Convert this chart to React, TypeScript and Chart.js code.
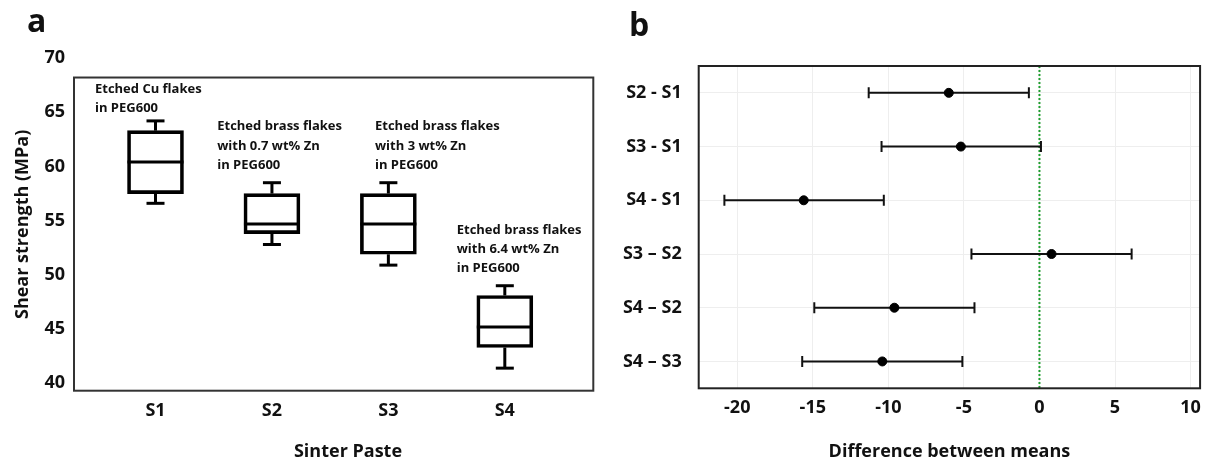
import React, { useEffect, useRef } from "react";
import { Chart, registerables } from "chart.js";
Chart.register(...registerables);

// ---------- Panel a: box plot data ----------
const samples = ["S1", "S2", "S3", "S4"];
const whiskerLow = [56.6, 52.8, 50.9, 41.4];
const quartile1 = [57.5, 53.8, 51.9, 43.3];
const medians = [60.4, 54.7, 54.7, 45.2];
const quartile3 = [63.3, 57.5, 57.5, 48.1];
const whiskerHigh = [64.2, 58.5, 58.5, 49.0];
const yTicksA = [40, 45, 50, 55, 60, 65, 70];
const annotations = [
  ["Etched Cu flakes", "in PEG600"],
  ["Etched brass flakes", "with 0.7 wt% Zn", "in PEG600"],
  ["Etched brass flakes", "with 3 wt% Zn", "in PEG600"],
  ["Etched brass flakes", "with 6.4 wt% Zn", "in PEG600"],
];
const yTitleA = "Shear strength (MPa)";
const xTitleA = "Sinter Paste";

// ---------- Panel b: Tukey intervals ----------
const comparisons = ["S2 - S1", "S3 - S1", "S4 - S1", "S3 – S2", "S4 – S2", "S4 – S3"];
const meanDiff = [-6.0, -5.2, -15.6, 0.8, -9.6, -10.4];
const ciLow = [-11.3, -10.45, -20.85, -4.5, -14.9, -15.7];
const ciHigh = [-0.7, 0.1, -10.3, 6.1, -4.3, -5.1];
const xTicksB = [-20, -15, -10, -5, 0, 5, 10];
const xTitleB = "Difference between means";

// ---------- layout / style (not data) ----------
const FONT = '"Open Sans", "DejaVu Sans", sans-serif';
const annotationAnchorX = [0.48, 1.53, 2.885, 3.587]; // x-axis units
const annotationAnchorY = [67.14, 63.69, 63.69, 54.15]; // y-axis units
const FRAME_TOP_A = 68.2;

export default function App() {
  const refA = useRef<HTMLCanvasElement>(null);
  const refB = useRef<HTMLCanvasElement>(null);

  useEffect(() => {
    const boxExtras = {
      id: "boxExtras",
      afterDatasetsDraw(chart: any) {
        const { ctx, scales } = chart;
        const x = scales.x, y = scales.y;
        ctx.save();
        ctx.strokeStyle = "#000";
        ctx.lineWidth = 3;
        const seg = (x1: number, y1: number, x2: number, y2: number) => {
          ctx.beginPath();
          ctx.moveTo(x1, y1);
          ctx.lineTo(x2, y2);
          ctx.stroke();
        };
        samples.forEach((_, i) => {
          const cx = x.getPixelForValue(i + 1);
          const hw = 28;
          const cap = 9;
          const ym = y.getPixelForValue(medians[i]);
          seg(cx - hw, ym, cx + hw, ym);
          const yq3 = y.getPixelForValue(quartile3[i]);
          const yhi = y.getPixelForValue(whiskerHigh[i]);
          seg(cx, yq3, cx, yhi);
          seg(cx - cap, yhi, cx + cap, yhi);
          const yq1 = y.getPixelForValue(quartile1[i]);
          const ylo = y.getPixelForValue(whiskerLow[i]);
          seg(cx, yq1, cx, ylo);
          seg(cx - cap, ylo, cx + cap, ylo);
        });
        ctx.restore();
      },
      afterDraw(chart: any) {
        const { ctx, scales, chartArea } = chart;
        const x = scales.x, y = scales.y;
        ctx.save();
        // frame
        ctx.strokeStyle = "#333";
        ctx.lineWidth = 2;
        const top = y.getPixelForValue(FRAME_TOP_A);
        ctx.strokeRect(chartArea.left, top, chartArea.right - chartArea.left, chartArea.bottom - top);
        // annotations
        ctx.fillStyle = "#111";
        ctx.font = `bold 13px ${FONT}`;
        ctx.textBaseline = "middle";
        ctx.textAlign = "left";
        annotations.forEach((lines, i) => {
          const ax = x.getPixelForValue(annotationAnchorX[i]);
          const ay = y.getPixelForValue(annotationAnchorY[i]);
          lines.forEach((t, j) => ctx.fillText(t, ax, ay + j * 19.4));
        });
        // x title
        ctx.font = `bold 18px ${FONT}`;
        ctx.textAlign = "center";
        ctx.fillText(xTitleA, 348, 452);
        // panel letter
        ctx.font = `bold 32px ${FONT}`;
        ctx.textAlign = "left";
        ctx.textBaseline = "alphabetic";
        ctx.fillText("a", 27, 32);
        ctx.restore();
      },
    };

    const chartA = new Chart(refA.current!, {
      type: "bar",
      data: {
        datasets: [
          {
            data: samples.map((_, i) => ({ x: i + 1, y: [quartile1[i], quartile3[i]] })) as any,
            backgroundColor: "rgba(0,0,0,0)",
            borderColor: "#000",
            borderWidth: 3,
            borderSkipped: false,
            barThickness: 56,
          },
        ],
      },
      options: {
        animation: false,
        responsive: false,
        plugins: { legend: { display: false }, tooltip: { enabled: false } },
        layout: { padding: { top: 58, right: 6.7, left: 0, bottom: 0 } },
        scales: {
          x: {
            type: "linear",
            offset: false,
            min: 0.3,
            max: 4.76,
            afterBuildTicks: (s: any) => {
              s.ticks = samples.map((_, i) => ({ value: i + 1 }));
            },
            afterFit: (s: any) => {
              s.height = 82.3;
            },
            grid: { display: false, drawTicks: false },
            border: { display: false },
            ticks: {
              autoSkip: false,
              maxRotation: 0,
              padding: 9,
              color: "#111",
              font: { family: FONT, size: 18, weight: "bold" },
              callback: (v: any) => samples[Number(v) - 1] ?? "",
            },
          },
          y: {
            type: "linear",
            min: 39.32,
            max: 70,
            afterBuildTicks: (s: any) => {
              s.ticks = yTicksA.map((v) => ({ value: v }));
            },
            afterFit: (s: any) => {
              s.width = 74;
            },
            grid: { display: false, drawTicks: false },
            border: { display: false },
            ticks: {
              padding: 9,
              color: "#111",
              font: { family: FONT, size: 18, weight: "bold" },
            },
            title: {
              display: true,
              text: yTitleA,
              color: "#111",
              font: { family: FONT, size: 18, weight: "bold" },
              padding: { top: 12, bottom: 0 },
            },
          },
        },
      } as any,
      plugins: [boxExtras],
    });

    const intervalExtras = {
      id: "intervalExtras",
      beforeDatasetsDraw(chart: any) {
        const { ctx, scales, chartArea } = chart;
        const x = scales.x, y = scales.y;
        ctx.save();
        // zero reference line
        ctx.strokeStyle = "#1f9d2f";
        ctx.lineWidth = 2;
        ctx.setLineDash([2, 2]);
        const x0 = x.getPixelForValue(0);
        ctx.beginPath();
        ctx.moveTo(x0, chartArea.top);
        ctx.lineTo(x0, chartArea.bottom);
        ctx.stroke();
        ctx.setLineDash([]);
        // interval bars
        ctx.strokeStyle = "#111";
        ctx.lineWidth = 2;
        comparisons.forEach((_, i) => {
          const yc = y.getPixelForValue(i);
          const xl = x.getPixelForValue(ciLow[i]);
          const xr = x.getPixelForValue(ciHigh[i]);
          ctx.beginPath();
          ctx.moveTo(xl, yc);
          ctx.lineTo(xr, yc);
          ctx.moveTo(xl, yc - 5.5);
          ctx.lineTo(xl, yc + 5.5);
          ctx.moveTo(xr, yc - 5.5);
          ctx.lineTo(xr, yc + 5.5);
          ctx.stroke();
        });
        ctx.restore();
      },
      afterDraw(chart: any) {
        const { ctx, chartArea } = chart;
        ctx.save();
        ctx.strokeStyle = "#222";
        ctx.lineWidth = 2;
        ctx.strokeRect(chartArea.left, chartArea.top, chartArea.right - chartArea.left, chartArea.bottom - chartArea.top);
        ctx.fillStyle = "#111";
        ctx.font = `bold 32px ${FONT}`;
        ctx.textBaseline = "alphabetic";
        ctx.fillText("b", 29, 36);
        ctx.restore();
      },
    };

    const chartB = new Chart(refB.current!, {
      type: "line",
      data: {
        labels: comparisons,
        datasets: [
          {
            data: meanDiff,
            showLine: false,
            pointRadius: 4.5,
            pointBackgroundColor: "#000",
            pointBorderColor: "#000",
            borderColor: "#000",
          },
        ],
      },
      options: {
        animation: false,
        responsive: false,
        indexAxis: "y",
        plugins: { legend: { display: false }, tooltip: { enabled: false } },
        layout: { padding: { top: 66, right: 7.7, left: 0, bottom: 0 } },
        scales: {
          x: {
            type: "linear",
            min: -22.55,
            max: 10.63,
            afterBuildTicks: (s: any) => {
              s.ticks = xTicksB.map((v) => ({ value: v }));
            },
            afterFit: (s: any) => {
              s.height = 84.7;
            },
            grid: { color: "#eeeeee", drawTicks: false },
            border: { display: false },
            ticks: {
              autoSkip: false,
              maxRotation: 0,
              padding: 9,
              color: "#111",
              font: { family: FONT, size: 18, weight: "bold" },
            },
            title: {
              display: true,
              text: xTitleB,
              color: "#111",
              font: { family: FONT, size: 18, weight: "bold" },
              padding: { top: 0, bottom: 10.5 },
            },
          },
          y: {
            type: "category",
            offset: true,
            afterFit: (s: any) => {
              s.width = 98.7;
            },
            grid: { color: "#eeeeee", drawTicks: false, offset: false },
            border: { display: false },
            ticks: {
              padding: 17,
              color: "#111",
              font: { family: FONT, size: 18, weight: "bold" },
            },
          },
        },
      } as any,
      plugins: [intervalExtras],
    });

    return () => {
      chartA.destroy();
      chartB.destroy();
    };
  }, []);

  return (
    <div style={{ position: "fixed", left: 0, top: 0, width: 1210, height: 473, background: "#fff" }}>
      <canvas
        ref={refA}
        width={600}
        height={473}
        style={{ position: "absolute", left: 0, top: 0, width: 600, height: 473 }}
      />
      <canvas
        ref={refB}
        width={610}
        height={473}
        style={{ position: "absolute", left: 600, top: 0, width: 610, height: 473 }}
      />
    </div>
  );
}
